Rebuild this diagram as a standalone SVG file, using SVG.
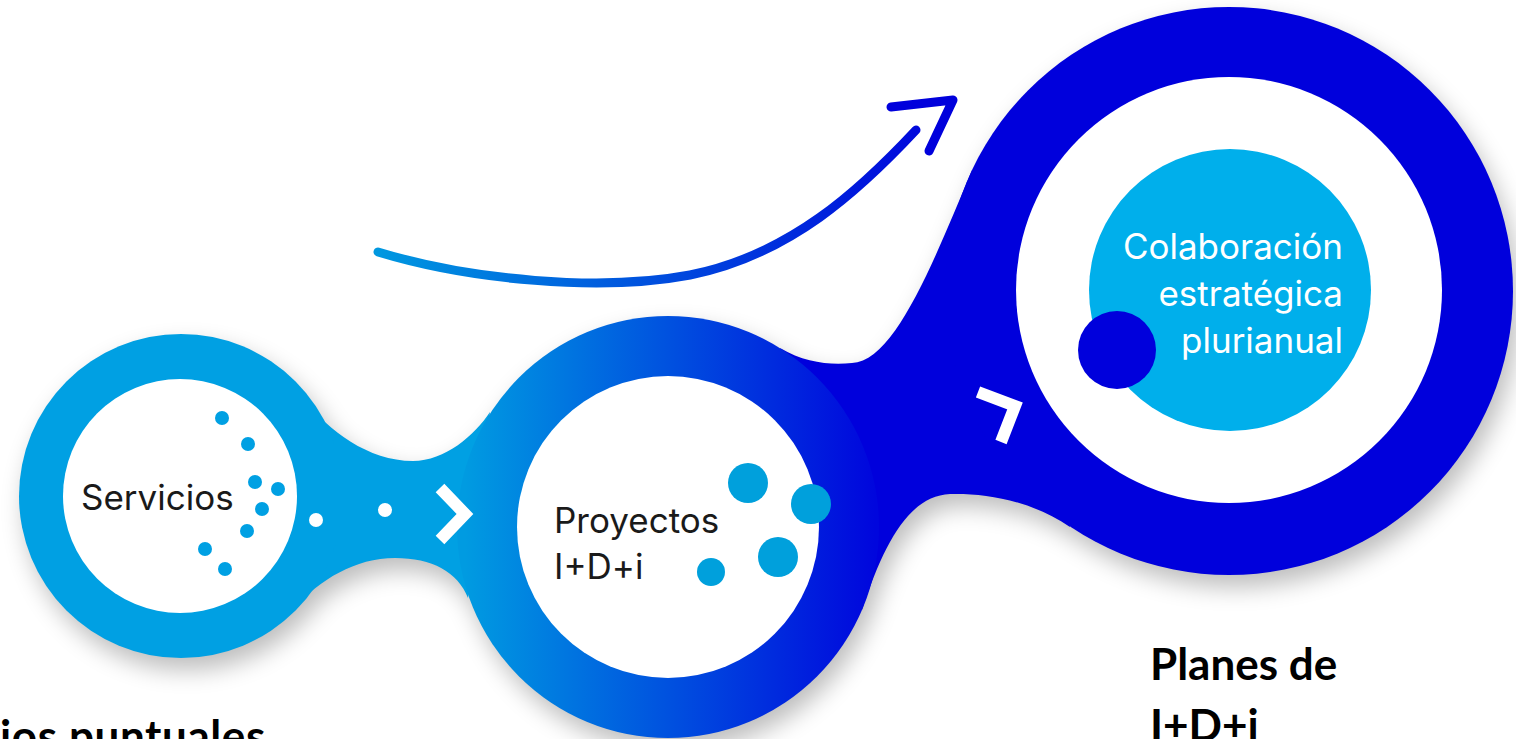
<svg xmlns="http://www.w3.org/2000/svg" xmlns:xlink="http://www.w3.org/1999/xlink" width="1516" height="739" viewBox="0 0 1516 739">
  <style>
    .lbl { font-family: Inter, "Liberation Sans", sans-serif; font-size: 35px; fill: #1a1a1a; }
    .lblw { font-family: Inter, "Liberation Sans", sans-serif; font-size: 35px; fill: #ffffff; text-anchor: end; }
    .cap { font-family: Lato, "Open Sans", "Liberation Sans", sans-serif; font-weight: bold; font-size: 44px; fill: #000000; }
    .dot { fill: #00A0E3; }
    .wdot { fill: #ffffff; }
    .chev { fill: none; stroke: #ffffff; stroke-width: 12; stroke-linejoin: miter; stroke-linecap: butt; }
  </style>
  <defs>
    <linearGradient id="gMid" gradientUnits="userSpaceOnUse" x1="465" y1="0" x2="875" y2="0">
      <stop offset="0" stop-color="#009BE1"/>
      <stop offset="1" stop-color="#0006DD"/>
    </linearGradient>
    <linearGradient id="gArrow" gradientUnits="userSpaceOnUse" x1="378" y1="0" x2="950" y2="0">
      <stop offset="0" stop-color="#0098E0"/>
      <stop offset="1" stop-color="#0000DC"/>
    </linearGradient>
    <filter id="sh" x="-20%" y="-20%" width="140%" height="150%">
      <feGaussianBlur stdDeviation="12"/>
    </filter>
    <path id="neckL" d="M305,400 C328,430 368,461 413,461 C445,461 475,435 490,412 L468,598 C458,572 432,558 395,558 C355,558 320,580 295,607 Z"/>
    <path id="neckR" d="M780,348 C805,363 830,365 852,363 C895,362 935,258 972,170 L1070,527 C1030,500 985,493 950,494 C910,496 885,540 862,610 Z"/>
    <g id="sil">
      <use xlink:href="#neckL"/>
      <use xlink:href="#neckR"/>
      <circle cx="181" cy="496" r="162"/>
      <circle cx="668" cy="527" r="211"/>
      <circle cx="1229" cy="291" r="284"/>
    </g>
  </defs>

  <rect x="0" y="0" width="1516" height="739" fill="#ffffff"/>

  <!-- soft shadow under the whole shape -->
  <use xlink:href="#sil" fill="#000000" opacity="0.26" transform="translate(6,12)" filter="url(#sh)"/>

  <!-- necks joining the circles -->
  <g id="links">
    <use xlink:href="#neckL" fill="#00A0E3"/>
    <use xlink:href="#neckR" fill="#0000DC"/>
  </g>

  <g id="node-servicios">
    <circle cx="181" cy="496" r="162" fill="#00A0E3"/>
    <circle cx="180" cy="496" r="117" fill="#ffffff"/>
    <text class="lbl" x="81" y="510">Servicios</text>
    <circle class="dot" cx="222" cy="418" r="7"/>
    <circle class="dot" cx="248" cy="444" r="7"/>
    <circle class="dot" cx="255" cy="482" r="7"/>
    <circle class="dot" cx="278" cy="489" r="7"/>
    <circle class="dot" cx="262" cy="509" r="7"/>
    <circle class="dot" cx="247" cy="531" r="7"/>
    <circle class="dot" cx="205" cy="549" r="7"/>
    <circle class="dot" cx="225" cy="569" r="7"/>
  </g>

  <g id="node-proyectos">
    <circle cx="668" cy="527" r="211" fill="url(#gMid)"/>
    <circle cx="668" cy="527" r="151" fill="#ffffff"/>
    <text class="lbl" x="554" y="533">Proyectos</text>
    <text class="lbl" x="554" y="579">I+D+i</text>
    <circle cx="748" cy="483" r="20" fill="#00A0DC"/>
    <circle cx="811" cy="504" r="20" fill="#00A0DC"/>
    <circle cx="778" cy="557" r="20" fill="#00A0DC"/>
    <circle cx="711" cy="572" r="14" fill="#00A0DC"/>
  </g>

  <g id="node-planes">
    <circle cx="1229" cy="291" r="284" fill="#0000DC"/>
    <circle cx="1229" cy="290" r="213" fill="#ffffff"/>
    <circle cx="1230" cy="290" r="141" fill="#00AFEB"/>
    <circle cx="1117" cy="350" r="39" fill="#0000DC"/>
    <text class="lblw" x="1343" y="259">Colaboración</text>
    <text class="lblw" x="1343" y="306">estratégica</text>
    <text class="lblw" x="1343" y="353">plurianual</text>
  </g>

  <g id="connectors">
    <circle class="wdot" cx="316" cy="520" r="7"/>
    <circle class="wdot" cx="385" cy="510" r="7"/>
    <polyline class="chev" points="440,488 465,514 440,540"/>
    <polyline class="chev" points="978,392 1015,406 1001,442"/>
    <path d="M378,252 C470,280 600,292 690,275 C790,255 860,190 916,130" fill="none" stroke="url(#gArrow)" stroke-width="9" stroke-linecap="round"/>
    <polyline points="891,107 953,100 929,151" fill="none" stroke="#0000DC" stroke-width="9" stroke-linecap="round" stroke-linejoin="round"/>
  </g>

  <g id="labels">
    <text class="cap" x="0" y="752" letter-spacing="0.6">ios puntuales</text>
    <text class="cap" x="1150" y="680">Planes de</text>
    <text class="cap" x="1150" y="741">I+D+i</text>
  </g>
</svg>
